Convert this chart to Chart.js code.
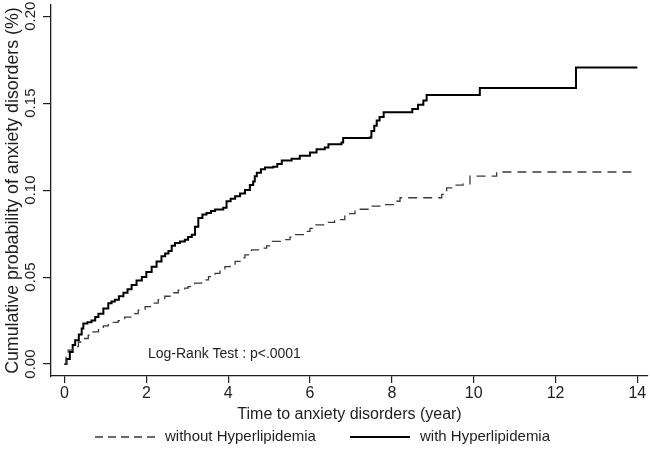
<!DOCTYPE html>
<html>
<head>
<meta charset="utf-8">
<script src="https://cdn.jsdelivr.net/npm/chart.js@4.4.1/dist/chart.umd.min.js"></script>
<style>
  html, body { margin: 0; padding: 0; background: #fff; }
  #wrap { width: 650px; height: 456px; }
</style>
</head>
<body>
<div id="wrap"><canvas id="c" width="650" height="456"></canvas></div>
<script>
// ---- data ----
const seriesNames = ["without Hyperlipidemia", "with Hyperlipidemia"];

const withoutTime = [0, 0.04, 0.09, 0.2, 0.34, 0.46, 0.58, 0.7, 0.83, 0.95, 1.07, 1.19, 1.31, 1.47, 1.64, 1.8, 1.97, 2.13, 2.29, 2.45, 2.62, 2.78, 2.94, 3.02, 3.18, 3.35, 3.52, 3.68, 3.8, 3.92, 4.05, 4.17, 4.29, 4.41, 4.57, 4.82, 4.94, 5.06, 5.39, 5.51, 5.63, 5.88, 6.0, 6.12, 6.4, 6.6, 6.85, 7.1, 7.46, 7.79, 8.12, 8.2, 9.22, 9.34, 9.5, 9.74, 9.91, 10.56, 14.0];
const withoutProb = [0, 0.004, 0.008, 0.010, 0.0127, 0.0147, 0.0166, 0.0185, 0.0204, 0.022, 0.0233, 0.024, 0.025, 0.027, 0.029, 0.031, 0.033, 0.035, 0.037, 0.039, 0.041, 0.0425, 0.0437, 0.0445, 0.0465, 0.0484, 0.0503, 0.0522, 0.054, 0.056, 0.0575, 0.059, 0.061, 0.0628, 0.0657, 0.0666, 0.068, 0.0705, 0.0715, 0.073, 0.0744, 0.0763, 0.078, 0.080, 0.0815, 0.083, 0.0865, 0.089, 0.0908, 0.0917, 0.0936, 0.0956, 0.0975, 0.1013, 0.1029, 0.1036, 0.108, 0.1104, 0.1104];

const withTime = [0, 0.05, 0.13, 0.2, 0.26, 0.35, 0.42, 0.46, 0.56, 0.66, 0.75, 0.83, 0.95, 1.07, 1.15, 1.23, 1.33, 1.44, 1.54, 1.64, 1.76, 1.89, 2.0, 2.13, 2.25, 2.37, 2.46, 2.54, 2.62, 2.7, 2.82, 2.94, 3.02, 3.11, 3.19, 3.27, 3.37, 3.47, 3.58, 3.68, 3.88, 3.96, 4.06, 4.17, 4.29, 4.41, 4.53, 4.61, 4.65, 4.7, 4.8, 4.9, 5.1, 5.2, 5.31, 5.55, 5.75, 6.0, 6.16, 6.36, 6.45, 6.77, 6.81, 7.46, 7.5, 7.57, 7.63, 7.7, 7.8, 8.5, 8.64, 8.77, 8.85, 10.15, 12.5, 14.0];
const withProb = [0, 0.003, 0.007, 0.011, 0.0137, 0.017, 0.0204, 0.0233, 0.024, 0.025, 0.027, 0.029, 0.032, 0.035, 0.036, 0.037, 0.039, 0.041, 0.043, 0.0455, 0.048, 0.050, 0.053, 0.056, 0.059, 0.062, 0.0635, 0.065, 0.068, 0.0696, 0.0705, 0.0715, 0.073, 0.0744, 0.079, 0.084, 0.086, 0.0869, 0.088, 0.0888, 0.0898, 0.0936, 0.095, 0.0965, 0.098, 0.100, 0.103, 0.105, 0.108, 0.110, 0.112, 0.113, 0.1135, 0.115, 0.117, 0.118, 0.1197, 0.1216, 0.1235, 0.1245, 0.1264, 0.1273, 0.1299, 0.1302, 0.134, 0.137, 0.140, 0.142, 0.1447, 0.1466, 0.149, 0.1515, 0.1547, 0.1587, 0.1705, 0.1705];

const xTicks = [0, 2, 4, 6, 8, 10, 12, 14];
const yTicks = [0, 0.05, 0.10, 0.15, 0.20];
const yTickLabels = ["0.00", "0.05", "0.10", "0.15", "0.20"];
const xTitle = "Time to anxiety disorders (year)";
const yTitle = "Cumulative probability of anxiety disorders (%)";
const testText = "Log-Rank Test : p<.0001";
const testPos = { x: 2.04, y: 0.006 };

// ---- chart ----
const FONT = "'Liberation Sans', Arial, sans-serif";
const INK = "#1e1e1e";

function toPoints(xs, ys) { return xs.map((x, i) => ({ x: x, y: ys[i] })); }

// legend layout (position / size only)
const legendLayout = [
  { x0: 95, x1: 158, textX: 165, dash: [8, 5] },
  { x0: 350, x1: 410, textX: 420, dash: [] }
];
const legendY = 437;

const overlay = {
  id: "overlay",
  afterDraw(chart) {
    const ctx = chart.ctx;
    const ys = chart.scales.y, xs = chart.scales.x;
    ctx.save();
    ctx.fillStyle = INK;
    ctx.font = "15px " + FONT;
    ctx.textAlign = "center";
    ctx.textBaseline = "middle";
    yTicks.forEach((v, i) => {
      const py = ys.getPixelForValue(v);
      ctx.save();
      ctx.translate(31, py);
      ctx.rotate(-Math.PI / 2);
      ctx.fillText(yTickLabels[i], 0, 0);
      ctx.restore();
    });
    ctx.font = "14px " + FONT;
    ctx.textAlign = "left";
    ctx.fillText(testText, xs.getPixelForValue(testPos.x), ys.getPixelForValue(testPos.y));

    // legend
    ctx.font = "15px " + FONT;
    chart.data.datasets.forEach((ds, i) => {
      const L = legendLayout[i];
      ctx.save();
      ctx.strokeStyle = ds.borderColor;
      ctx.lineWidth = ds.borderWidth;
      ctx.setLineDash(L.dash);
      ctx.beginPath();
      ctx.moveTo(L.x0, legendY);
      ctx.lineTo(L.x1, legendY);
      ctx.stroke();
      ctx.restore();
      ctx.fillText(ds.label, L.textX, legendY);
    });
    ctx.restore();
  }
};

new Chart(document.getElementById("c"), {
  type: "line",
  data: {
    datasets: [
      {
        label: seriesNames[0],
        data: toPoints(withoutTime, withoutProb),
        borderColor: "#3a3a3a",
        borderWidth: 1.3,
        borderDash: [9, 6],
        stepped: "before",
        pointRadius: 0,
        fill: false
      },
      {
        label: seriesNames[1],
        data: toPoints(withTime, withProb),
        borderColor: "#000000",
        borderWidth: 2,
        stepped: "before",
        pointRadius: 0,
        fill: false
      }
    ]
  },
  options: {
    responsive: false,
    animation: false,
    devicePixelRatio: 1,
    layout: { padding: { left: 0, right: 2, top: 5, bottom: 32 } },
    plugins: {
      tooltip: { enabled: false },
      legend: { display: false }
    },
    scales: {
      x: {
        type: "linear",
        min: -0.33,
        max: 14.26,
        afterBuildTicks: s => { s.ticks = xTicks.map(v => ({ value: v })); },
        grid: { drawOnChartArea: false, drawTicks: true, tickLength: 7, color: INK, lineWidth: 1.2 },
        border: { display: true, color: INK, width: 1.3 },
        ticks: { color: INK, font: { family: FONT, size: 16 }, padding: 1, maxRotation: 0, callback: v => String(v) },
        title: { display: true, text: xTitle, color: INK, font: { family: FONT, size: 16 }, padding: { top: 0.5, bottom: 0 } }
      },
      y: {
        type: "linear",
        min: -0.0069,
        max: 0.2064,
        afterBuildTicks: s => { s.ticks = yTicks.map(v => ({ value: v })); },
        afterFit: s => { s.width = 51; },
        grid: { drawOnChartArea: false, drawTicks: true, tickLength: 8, color: INK, lineWidth: 1.2 },
        border: { display: true, color: INK, width: 1.3 },
        ticks: { display: false },
        title: { display: true, text: yTitle, color: INK, font: { family: FONT, size: 17.8 }, padding: { top: 2, bottom: 0 } }
      }
    }
  },
  plugins: [overlay]
});
</script>
</body>
</html>
